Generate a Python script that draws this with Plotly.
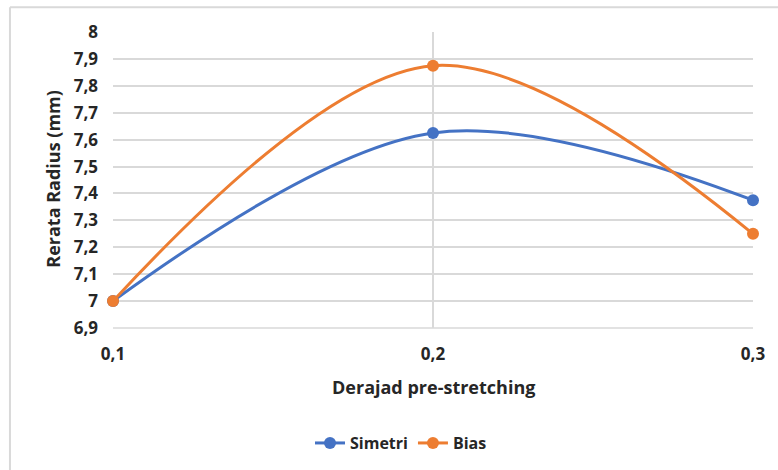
import plotly.graph_objects as go

x_vals = [0.1, 0.2, 0.3]
x_labels = ["0,1", "0,2", "0,3"]
simetri = [7.0, 7.625, 7.375]
bias = [7.0, 7.875, 7.25]
y_ticks = [6.9, 7.0, 7.1, 7.2, 7.3, 7.4, 7.5, 7.6, 7.7, 7.8, 7.9, 8.0]
y_labels = ["6,9", "7", "7,1", "7,2", "7,3", "7,4", "7,5", "7,6", "7,7", "7,8", "7,9", "8"]

FONT = "Open Sans"
TXT = "#262626"

fig = go.Figure()
fig.add_trace(go.Scatter(x=x_vals, y=simetri, name="Simetri", mode="lines+markers",
                         line=dict(color="#4472C4", width=3, shape="spline", smoothing=1),
                         marker=dict(size=12, color="#4472C4"), cliponaxis=False))
fig.add_trace(go.Scatter(x=x_vals, y=bias, name="Bias", mode="lines+markers",
                         line=dict(color="#ED7D31", width=3, shape="spline", smoothing=1),
                         marker=dict(size=12, color="#ED7D31"), cliponaxis=False))

tick_font = dict(family=FONT, size=17, color=TXT, weight="bold")

fig.update_layout(
    width=778, height=470,
    margin=dict(l=113, r=25, t=32, b=141),
    paper_bgcolor="white", plot_bgcolor="white",
    font=dict(family=FONT, size=15, color=TXT),
    showlegend=True,
    legend=dict(orientation="h", x=0.45, xanchor="center", y=-0.384, yanchor="middle",
                font=dict(family=FONT, size=16, color=TXT, weight="bold"),
                traceorder="normal"),
    xaxis=dict(range=[0.1, 0.3], tickvals=x_vals, ticktext=x_labels, showgrid=True,
               gridcolor="#D9D9D9", gridwidth=1.5, zeroline=False, showline=False,
               tickfont=tick_font, ticks="", ticklabelstandoff=14),
    yaxis=dict(range=[6.9, 8.0], tickvals=y_ticks, ticktext=y_labels, showgrid=True,
               gridcolor="#D9D9D9", gridwidth=1.5, zeroline=False,
               showline=False,
               tickfont=tick_font, ticks="", ticklabelstandoff=14),
    annotations=[
        dict(text="Rerata Radius (mm)", xref="paper", yref="paper", x=-0.095, y=0.505,
             textangle=-90, showarrow=False, xanchor="center", yanchor="middle",
             font=dict(family=FONT, size=18, color=TXT, weight="bold")),
        dict(text="Derajad pre-stretching", xref="paper", yref="paper", x=0.5, y=-0.199,
             showarrow=False, xanchor="center", yanchor="middle",
             font=dict(family=FONT, size=18, color=TXT, weight="bold")),
    ],
    shapes=[
        dict(type="line", xref="paper", yref="paper", x0=-0.161, x1=1.1, y0=1.084, y1=1.084,
             line=dict(color="#D9D9D9", width=2)),
        dict(type="line", xref="paper", yref="paper", x0=-0.161, x1=-0.161, y0=1.084, y1=-0.6,
             line=dict(color="#D9D9D9", width=2)),
        dict(type="line", xref="paper", yref="paper", x0=0, x1=1, y0=0, y1=0, layer="below",
             line=dict(color="#D9D9D9", width=1.5)),
    ],
)

fig.write_html("out.html")
